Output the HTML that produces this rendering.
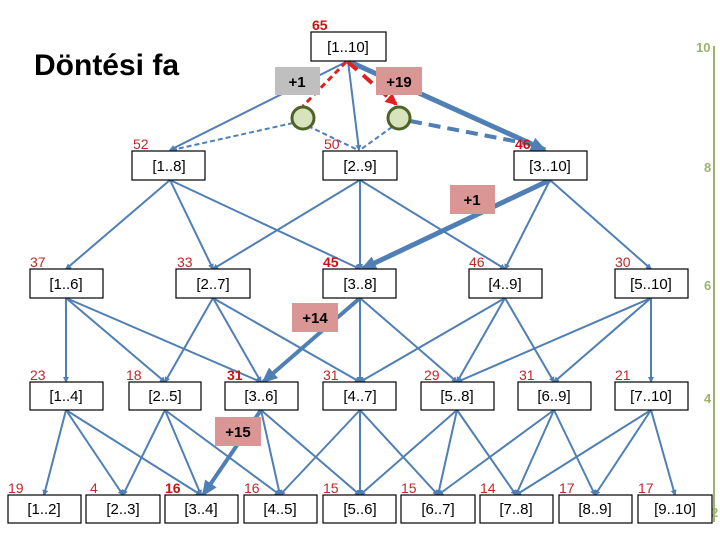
<!DOCTYPE html>
<html><head><meta charset="utf-8"><style>
html,body{margin:0;padding:0;background:#fff;}
svg{display:block;font-family:"Liberation Sans",sans-serif;}
.b{fill:#fff;stroke:#000;stroke-width:1.2}
.t{font-size:15px;text-anchor:middle;fill:#000}
.e{stroke:#4f7fb4;stroke-width:2;fill:none}
.r{fill:#c0282a;font-size:14px}
.rb{fill:#d01010;font-size:14px;font-weight:bold}
.g{fill:#9bb36a;font-size:13px;font-weight:bold}
</style></head><body>
<svg width="720" height="540" viewBox="0 0 720 540" xmlns="http://www.w3.org/2000/svg">
<defs>
<marker id="a" markerWidth="6" markerHeight="6" refX="5" refY="3" orient="auto" markerUnits="userSpaceOnUse"><path d="M0,0 L6,3 L0,6z" fill="#4f7fb4"/></marker>
<marker id="A" markerWidth="16" markerHeight="14" refX="14" refY="7" orient="auto" markerUnits="userSpaceOnUse"><path d="M0,0 L16,7 L0,14z" fill="#4f7fb4"/></marker>
<marker id="R" markerWidth="12" markerHeight="12" refX="10" refY="6" orient="auto" markerUnits="userSpaceOnUse"><path d="M0,0 L12,6 L0,12z" fill="#e02020"/></marker>
</defs>
<text x="34" y="75" font-size="30" font-weight="bold">Döntési fa</text>
<!-- green scale -->
<line x1="714" y1="46" x2="714" y2="522" stroke="#9bb36a" stroke-width="2"/>
<text class="g" x="696" y="52">10</text>
<text class="g" x="704" y="172">8</text>
<text class="g" x="704" y="290">6</text>
<text class="g" x="704" y="403">4</text>
<text class="g" x="711" y="517">2</text>
<!-- root edges -->
<g class="e">
<line x1="348" y1="61" x2="170" y2="150" marker-end="url(#a)"/>
<line x1="348" y1="61" x2="359" y2="150" marker-end="url(#a)"/>
<line x1="348" y1="61" x2="545" y2="150" stroke-width="5" marker-end="url(#A)"/>
<line x1="293" y1="123" x2="172" y2="150" stroke-dasharray="5,3" marker-end="url(#a)"/>
<line x1="308" y1="126" x2="358" y2="150" stroke-dasharray="5,3"/>
<line x1="392" y1="127" x2="360" y2="150" stroke-dasharray="5,3"/>
<line x1="410" y1="121" x2="540" y2="146" stroke-width="4" stroke-dasharray="12,7"/>
</g>
<line x1="346" y1="62" x2="303" y2="106" stroke="#e02020" stroke-width="3" stroke-dasharray="6,4"/>
<line x1="348" y1="62" x2="396" y2="104" stroke="#e02020" stroke-width="4" stroke-dasharray="12,8" marker-end="url(#R)"/>
<circle cx="303" cy="118" r="11" fill="#d6e3bc" stroke="#4f6228" stroke-width="3"/>
<circle cx="399" cy="118" r="11" fill="#d6e3bc" stroke="#4f6228" stroke-width="3"/>
<rect x="275" y="67" width="45" height="28" fill="#bfbfbf"/>
<text x="297" y="87" class="t" font-weight="bold">+1</text>
<rect x="376" y="67" width="46" height="28" fill="#d99694"/>
<text x="399" y="87" class="t" font-weight="bold">+19</text>
<!-- row2->row3 -->
<g class="e">
<line x1="170" y1="180" x2="66" y2="269" marker-end="url(#a)"/>
<line x1="170" y1="180" x2="213" y2="269" marker-end="url(#a)"/>
<line x1="170" y1="180" x2="360" y2="269" marker-end="url(#a)"/>
<line x1="360" y1="180" x2="213" y2="269" marker-end="url(#a)"/>
<line x1="360" y1="180" x2="360" y2="269" marker-end="url(#a)"/>
<line x1="360" y1="180" x2="505" y2="269" marker-end="url(#a)"/>
<line x1="550" y1="180" x2="505" y2="269" marker-end="url(#a)"/>
<line x1="550" y1="180" x2="651" y2="269" marker-end="url(#a)"/>
<line x1="550" y1="180" x2="362" y2="269" stroke-width="5" marker-end="url(#A)"/>
</g>
<!-- row3->row4 -->
<g class="e">
<line x1="66" y1="298" x2="66" y2="382" marker-end="url(#a)"/>
<line x1="66" y1="298" x2="165" y2="382" marker-end="url(#a)"/>
<line x1="66" y1="298" x2="261" y2="382" marker-end="url(#a)"/>
<line x1="213" y1="298" x2="165" y2="382" marker-end="url(#a)"/>
<line x1="213" y1="298" x2="261" y2="382" marker-end="url(#a)"/>
<line x1="213" y1="298" x2="360" y2="382" marker-end="url(#a)"/>
<line x1="360" y1="298" x2="360" y2="382" marker-end="url(#a)"/>
<line x1="360" y1="298" x2="457" y2="382" marker-end="url(#a)"/>
<line x1="360" y1="298" x2="263" y2="382" stroke-width="4" marker-end="url(#A)"/>
<line x1="505" y1="298" x2="360" y2="382" marker-end="url(#a)"/>
<line x1="505" y1="298" x2="457" y2="382" marker-end="url(#a)"/>
<line x1="505" y1="298" x2="554" y2="382" marker-end="url(#a)"/>
<line x1="651" y1="298" x2="457" y2="382" marker-end="url(#a)"/>
<line x1="651" y1="298" x2="554" y2="382" marker-end="url(#a)"/>
<line x1="651" y1="298" x2="651" y2="382" marker-end="url(#a)"/>
</g>
<!-- row4->row5 -->
<g class="e">
<line x1="66" y1="410" x2="44" y2="495" marker-end="url(#a)"/>
<line x1="66" y1="410" x2="123" y2="495" marker-end="url(#a)"/>
<line x1="66" y1="410" x2="201" y2="495" marker-end="url(#a)"/>
<line x1="165" y1="410" x2="123" y2="495" marker-end="url(#a)"/>
<line x1="165" y1="410" x2="201" y2="495" marker-end="url(#a)"/>
<line x1="165" y1="410" x2="280" y2="495" marker-end="url(#a)"/>
<line x1="261" y1="410" x2="280" y2="495" marker-end="url(#a)"/>
<line x1="261" y1="410" x2="360" y2="495" marker-end="url(#a)"/>
<line x1="261" y1="410" x2="203" y2="495" stroke-width="4" marker-end="url(#A)"/>
<line x1="360" y1="410" x2="280" y2="495" marker-end="url(#a)"/>
<line x1="360" y1="410" x2="360" y2="495" marker-end="url(#a)"/>
<line x1="360" y1="410" x2="438" y2="495" marker-end="url(#a)"/>
<line x1="457" y1="410" x2="360" y2="495" marker-end="url(#a)"/>
<line x1="457" y1="410" x2="438" y2="495" marker-end="url(#a)"/>
<line x1="457" y1="410" x2="516" y2="495" marker-end="url(#a)"/>
<line x1="554" y1="410" x2="438" y2="495" marker-end="url(#a)"/>
<line x1="554" y1="410" x2="516" y2="495" marker-end="url(#a)"/>
<line x1="554" y1="410" x2="595" y2="495" marker-end="url(#a)"/>
<line x1="651" y1="410" x2="516" y2="495" marker-end="url(#a)"/>
<line x1="651" y1="410" x2="595" y2="495" marker-end="url(#a)"/>
<line x1="651" y1="410" x2="675" y2="495" marker-end="url(#a)"/>
</g>
<!-- plus boxes -->
<rect x="450" y="185" width="45" height="29" fill="#d99694"/>
<text x="472" y="205" class="t" font-weight="bold">+1</text>
<rect x="292" y="303" width="46" height="29" fill="#d99694"/>
<text x="315" y="323" class="t" font-weight="bold">+14</text>
<rect x="215" y="417" width="46" height="29" fill="#d99694"/>
<text x="238" y="437" class="t" font-weight="bold">+15</text>
<!-- nodes -->
<rect class="b" x="311" y="32" width="75" height="29"/><text class="t" x="348" y="52">[1..10]</text>
<rect class="b" x="132" y="151" width="73" height="29"/><text class="t" x="169" y="171">[1..8]</text>
<rect class="b" x="323" y="151" width="74" height="29"/><text class="t" x="360" y="171">[2..9]</text>
<rect class="b" x="514" y="151" width="73" height="29"/><text class="t" x="550" y="171">[3..10]</text>
<g>
<rect class="b" x="30" y="269" width="73" height="29"/><text class="t" x="66" y="289">[1..6]</text>
<rect class="b" x="176" y="269" width="74" height="29"/><text class="t" x="213" y="289">[2..7]</text>
<rect class="b" x="323" y="269" width="73" height="29"/><text class="t" x="360" y="289">[3..8]</text>
<rect class="b" x="469" y="269" width="73" height="29"/><text class="t" x="505" y="289">[4..9]</text>
<rect class="b" x="615" y="269" width="73" height="29"/><text class="t" x="651" y="289">[5..10]</text>
</g>
<g>
<rect class="b" x="30" y="382" width="73" height="28"/><text class="t" x="66" y="401">[1..4]</text>
<rect class="b" x="129" y="382" width="72" height="28"/><text class="t" x="165" y="401">[2..5]</text>
<rect class="b" x="225" y="382" width="73" height="28"/><text class="t" x="261" y="401">[3..6]</text>
<rect class="b" x="323" y="382" width="73" height="28"/><text class="t" x="360" y="401">[4..7]</text>
<rect class="b" x="421" y="382" width="73" height="28"/><text class="t" x="457" y="401">[5..8]</text>
<rect class="b" x="518" y="382" width="73" height="28"/><text class="t" x="554" y="401">[6..9]</text>
<rect class="b" x="615" y="382" width="73" height="28"/><text class="t" x="651" y="401">[7..10]</text>
</g>
<g>
<rect class="b" x="8" y="495" width="73" height="28"/><text class="t" x="44" y="514">[1..2]</text>
<rect class="b" x="86" y="495" width="74" height="28"/><text class="t" x="123" y="514">[2..3]</text>
<rect class="b" x="165" y="495" width="73" height="28"/><text class="t" x="201" y="514">[3..4]</text>
<rect class="b" x="244" y="495" width="73" height="28"/><text class="t" x="280" y="514">[4..5]</text>
<rect class="b" x="323" y="495" width="73" height="28"/><text class="t" x="360" y="514">[5..6]</text>
<rect class="b" x="401" y="495" width="74" height="28"/><text class="t" x="438" y="514">[6..7]</text>
<rect class="b" x="480" y="495" width="73" height="28"/><text class="t" x="516" y="514">[7..8]</text>
<rect class="b" x="559" y="495" width="73" height="28"/><text class="t" x="595" y="514">[8..9]</text>
<rect class="b" x="638" y="495" width="74" height="28"/><text class="t" x="675" y="514">[9..10]</text>
</g>
<!-- values -->
<text class="rb" x="312" y="30">65</text>
<text class="r" x="133" y="149">52</text>
<text class="r" x="324" y="149">50</text>
<text class="rb" x="515" y="149">46</text>
<text class="r" x="30" y="267">37</text>
<text class="r" x="177" y="267">33</text>
<text class="rb" x="323" y="267">45</text>
<text class="r" x="469" y="267">46</text>
<text class="r" x="615" y="267">30</text>
<text class="r" x="30" y="380">23</text>
<text class="r" x="126" y="380">18</text>
<text class="rb" x="227" y="380">31</text>
<text class="r" x="323" y="380">31</text>
<text class="r" x="424" y="380">29</text>
<text class="r" x="519" y="380">31</text>
<text class="r" x="615" y="380">21</text>
<text class="r" x="8" y="493">19</text>
<text class="r" x="90" y="493">4</text>
<text class="rb" x="165" y="493">16</text>
<text class="r" x="244" y="493">16</text>
<text class="r" x="323" y="493">15</text>
<text class="r" x="401" y="493">15</text>
<text class="r" x="480" y="493">14</text>
<text class="r" x="559" y="493">17</text>
<text class="r" x="638" y="493">17</text>
</svg>
</body></html>
